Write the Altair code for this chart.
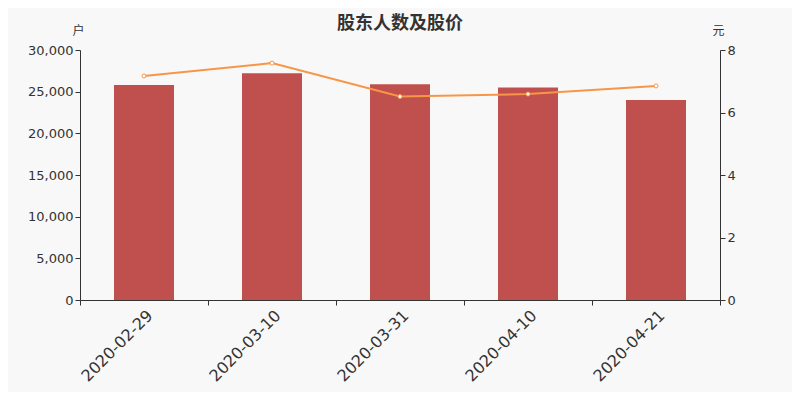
import altair as alt
import pandas as pd

dates = ["2020-02-29", "2020-03-10", "2020-03-31", "2020-04-10", "2020-04-21"]
holders = [25800, 27200, 25900, 25500, 24000]
prices = [7.17, 7.58, 6.51, 6.59, 6.85]
title_text = "股东人数及股价"

df = pd.DataFrame({"date": dates, "holders": holders, "price": prices})

FONT = "Noto Sans CJK SC"

x = alt.X("date:N", sort=dates, title=None,
          scale=alt.Scale(paddingInner=0.0, paddingOuter=0.0),
          axis=alt.Axis(labelAngle=-45, labelFontSize=16, labelColor="#333333",
                        labelFont="DejaVu Sans", tickBand="extent", tickSize=5,
                        domainColor="#333333", tickColor="#333333", labelPadding=2))

bars = alt.Chart(df).mark_bar(color="#c0504d", size=60).encode(
    x=x,
    y=alt.Y("holders:Q", scale=alt.Scale(domain=[0, 30000]),
            axis=alt.Axis(title="户", titleAngle=0, titleX=-2, titleY=-20,
                          titleAlign="center", titleBaseline="middle",
                          titleFontWeight="normal", titleFontSize=12, titleFont=FONT,
                          titleColor="#333333",
                          values=[0, 5000, 10000, 15000, 20000, 25000, 30000],
                          format=",.0f", labelFontSize=13, labelColor="#333333",
                          labelFont="DejaVu Sans", grid=False, tickSize=5,
                          domainColor="#333333", tickColor="#333333")),
)

line = alt.Chart(df).mark_line(color="#f79646", strokeWidth=2,
                               point=alt.OverlayMarkDef(filled=True, fill="white",
                                                        stroke="#f79646", size=16,
                                                        strokeWidth=1)).encode(
    x=alt.X("date:N", sort=dates),
    y=alt.Y("price:Q", scale=alt.Scale(domain=[0, 8]),
            axis=alt.Axis(title="元", titleAngle=0, titleX=-2, titleY=-20,
                          titleAlign="center", titleBaseline="middle",
                          titleFontWeight="normal", titleFontSize=12, titleFont=FONT,
                          titleColor="#333333", orient="right",
                          values=[0, 2, 4, 6, 8], labelFontSize=13,
                          labelColor="#333333", labelFont="DejaVu Sans",
                          grid=False, tickSize=5,
                          domainColor="#333333", tickColor="#333333")),
)

chart = alt.layer(bars, line).resolve_scale(y="independent").properties(
    width=640, height=250,
    title=alt.TitleParams(title_text, font=FONT, fontSize=18, fontWeight="bold",
                          color="#333333", anchor="middle", offset=4, dy=13),
    background="#f8f8f8",
    autosize=alt.AutoSizeParams(type="none"),
    padding={"left": 72, "top": 42, "right": 72, "bottom": 92},
).configure_view(stroke=None)

chart.save("out.html", embed_options={"renderer": "svg", "actions": False})
